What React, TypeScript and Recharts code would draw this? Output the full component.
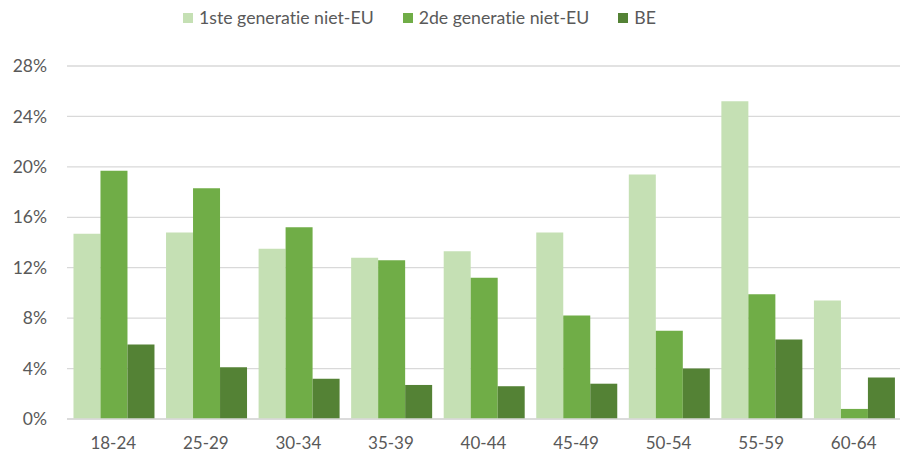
import React from 'react';
import { BarChart, Bar, XAxis, YAxis, CartesianGrid } from 'recharts';

// age groups on the x axis
const ageGroups = ['18-24', '25-29', '30-34', '35-39', '40-44', '45-49', '50-54', '55-59', '60-64'];

// share in percent
const firstGenNonEU = [14.7, 14.8, 13.5, 12.8, 13.3, 14.8, 19.4, 25.2, 9.4];
const secondGenNonEU = [19.7, 18.3, 15.2, 12.6, 11.2, 8.2, 7.0, 9.9, 0.8];
const belgian = [5.9, 4.1, 3.2, 2.7, 2.6, 2.8, 4.0, 6.3, 3.3];

const yTicks = [0, 4, 8, 12, 16, 20, 24, 28];

const seriesNames = ['1ste generatie niet-EU', '2de generatie niet-EU', 'BE'];
const seriesColors = ['#C5E0B4', '#70AD47', '#548235'];

const data = ageGroups.map((age, i) => ({
  age,
  first: firstGenNonEU[i],
  second: secondGenNonEU[i],
  be: belgian[i],
}));

const FONT = 'Lato, "Open Sans", sans-serif';
const TEXT = '#595959';

const App: React.FC = () => {
  return (
    <div
      style={{
        position: 'absolute', left: 0, top: 0, width: 904, height: 453,
        background: '#fff', fontFamily: FONT, fontVariantLigatures: 'none',
      }}
    >
      {/* legend */}
      <div style={{ position: 'absolute', left: 183, top: 6, display: 'flex', alignItems: 'center', gap: 29, color: TEXT, fontSize: 17.7, lineHeight: '24px' }}>
        {seriesNames.map((name, i) => (
          <div key={name} style={{ display: 'flex', alignItems: 'center' }}>
            <span style={{ display: 'inline-block', width: 10, height: 10, background: seriesColors[i], marginRight: 6 }} />
            <span>{name}</span>
          </div>
        ))}
      </div>

      <BarChart
        width={904}
        height={453}
        data={data}
        margin={{ top: 66, right: 4, bottom: 4, left: 0 }}
        barCategoryGap="7%"
        barGap={0}
      >
        <CartesianGrid vertical={false} stroke="#D9D9D9" strokeWidth={1.3} />
        <XAxis
          dataKey="age"
          height={30}
          tickLine={false}
          axisLine={{ stroke: '#D9D9D9', strokeWidth: 1.3 }}
          tickMargin={12}
          tick={{ fill: TEXT, fontSize: 17, fontFamily: FONT }}
        />
        <YAxis
          width={67}
          domain={[0, 28]}
          ticks={yTicks}
          interval={0}
          axisLine={false}
          tickLine={false}
          tickMargin={14}
          tickFormatter={(v: number) => `${v}%`}
          tick={{ fill: TEXT, fontSize: 17.5, fontFamily: FONT }}
        />
        <Bar dataKey="first" name={seriesNames[0]} fill={seriesColors[0]} isAnimationActive={false} />
        <Bar dataKey="second" name={seriesNames[1]} fill={seriesColors[1]} isAnimationActive={false} />
        <Bar dataKey="be" name={seriesNames[2]} fill={seriesColors[2]} isAnimationActive={false} />
      </BarChart>
    </div>
  );
};

export default App;
